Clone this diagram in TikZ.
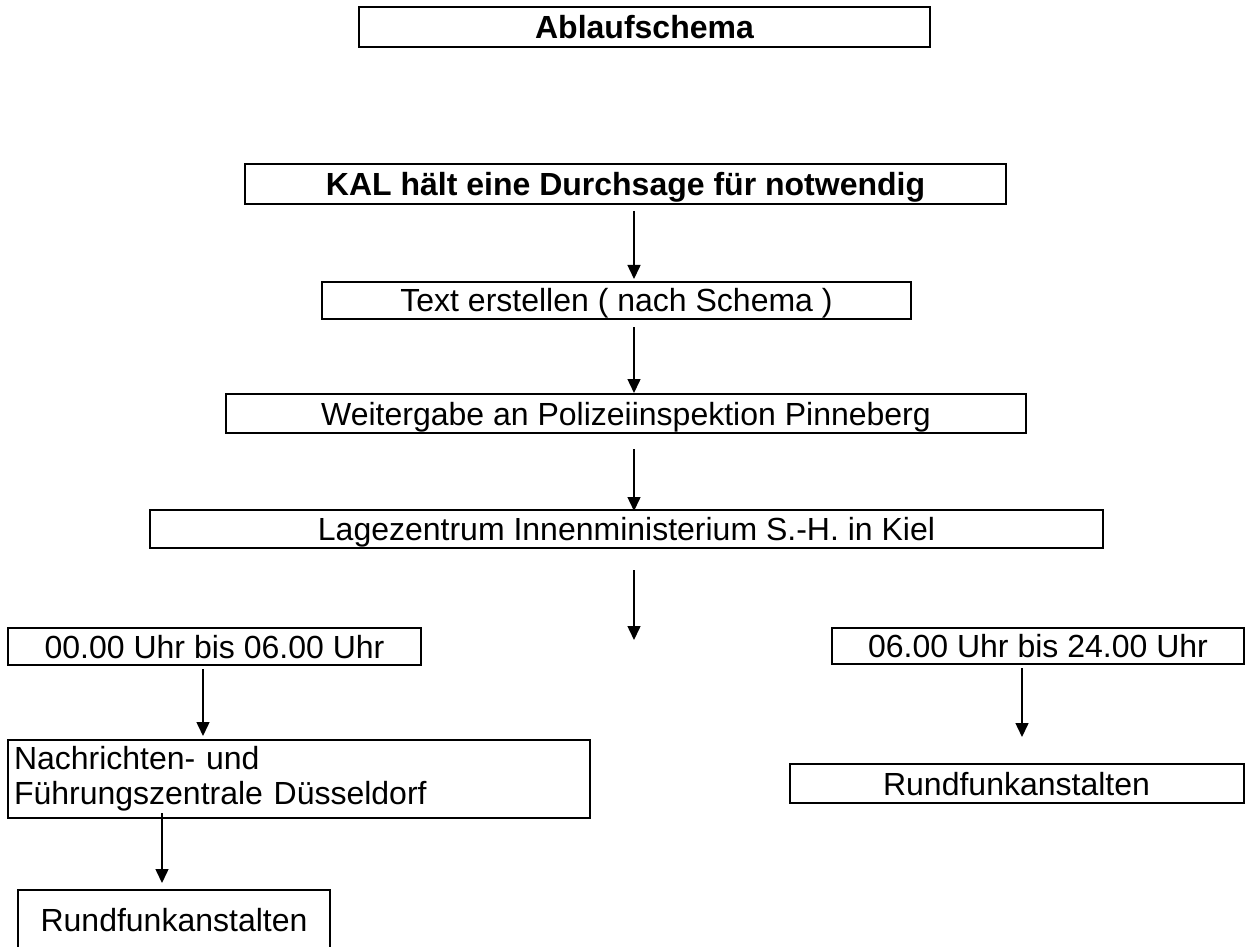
\documentclass[tikz,border=0pt]{standalone}
\usepackage{fontspec}
\setmainfont{Liberation Sans}
\usepackage{tikz}
\usetikzlibrary{positioning,calc,arrows.meta}

\begin{document}
\begin{tikzpicture}[
        x=0.5pt, y=-0.5pt,
        box/.style={rectangle, draw=black, line width=1pt, inner sep=0pt,
            text height=11.5pt, text depth=0pt,
            font=\fontsize{16}{19}\selectfont},
        head/.style={box, font=\fontsize{16}{19}\selectfont\bfseries},
        arrow/.style={line width=0.75pt, -{Triangle[length=7pt,width=6.5pt]}}
    ]
    \useasboundingbox (0,0) rectangle (1245,946);

    % Define nodes
    \node[head, minimum width=285.5pt, minimum height=20pt] (title) at (644.5,27) {Ablaufschema};
    \node[head, minimum width=380.5pt, minimum height=20pt] (kal) at (625.5,184) {KAL hält eine Durchsage für notwendig};
    \node[box, minimum width=294.5pt, minimum height=18.5pt] (text) at (616.5,300.5) {Text erstellen ( nach Schema )};
    \node[box, minimum width=400pt, minimum height=19.5pt] (weiter) at (626,413.5) {Weitergabe an Polizeiinspektion Pinneberg};
    \node[box, minimum width=476.5pt, minimum height=19pt] (lage) at (626.5,529) {Lagezentrum Innenministerium S.-H. in Kiel};

    % Night and day branches
    \node[box, minimum width=206.5pt, minimum height=18.5pt] (nacht) at (214.5,646.5) {00.00 Uhr bis 06.00 Uhr};
    \node[box, minimum width=206pt, minimum height=18pt] (tag) at (1038,646) {06.00 Uhr bis 24.00 Uhr};
    \node[box, text height=, text depth=, minimum width=291pt, minimum height=39pt, text width=285pt, inner xsep=3pt,
        align=left, font=\fontsize{16}{17.5}\selectfont] (nfz) at (299,779)
        {Nachrichten- und\\Führungszentrale Düsseldorf};
    \node[box, minimum width=156pt, minimum height=30pt] (rundl) at (174,920) {Rundfunkanstalten};
    \node[box, minimum width=227pt, minimum height=19.5pt] (rundr) at (1016.5,783.5) {Rundfunkanstalten};

    % Arrow columns
    \coordinate (mid) at (634,0);
    \coordinate (split) at (634,640);
    \coordinate (lcol) at (203,0);
    \coordinate (ncol) at (162,0);
    \coordinate (rcol) at (1022,0);

    % Draw arrows
    \draw[arrow, shorten <=3pt, shorten >=1pt] (kal.south -| mid) -- (text.north -| mid);
    \draw[arrow, shorten <=3.5pt] (text.south -| mid) -- (weiter.north -| mid);
    \draw[arrow, shorten <=7.5pt, shorten >=-1pt] (weiter.south -| mid) -- (lage.north -| mid);
    \draw[arrow, shorten <=10.5pt] (lage.south -| mid) -- (split);
    \draw[arrow, shorten <=1.5pt, shorten >=1.5pt] (nacht.south -| lcol) -- (nfz.north -| lcol);
    \draw[arrow, shorten <=-3pt, shorten >=3pt] (nfz.south -| ncol) -- (rundl.north -| ncol);
    \draw[arrow, shorten <=1.5pt, shorten >=13pt] (tag.south -| rcol) -- (rundr.north -| rcol);

\end{tikzpicture}
\end{document}
